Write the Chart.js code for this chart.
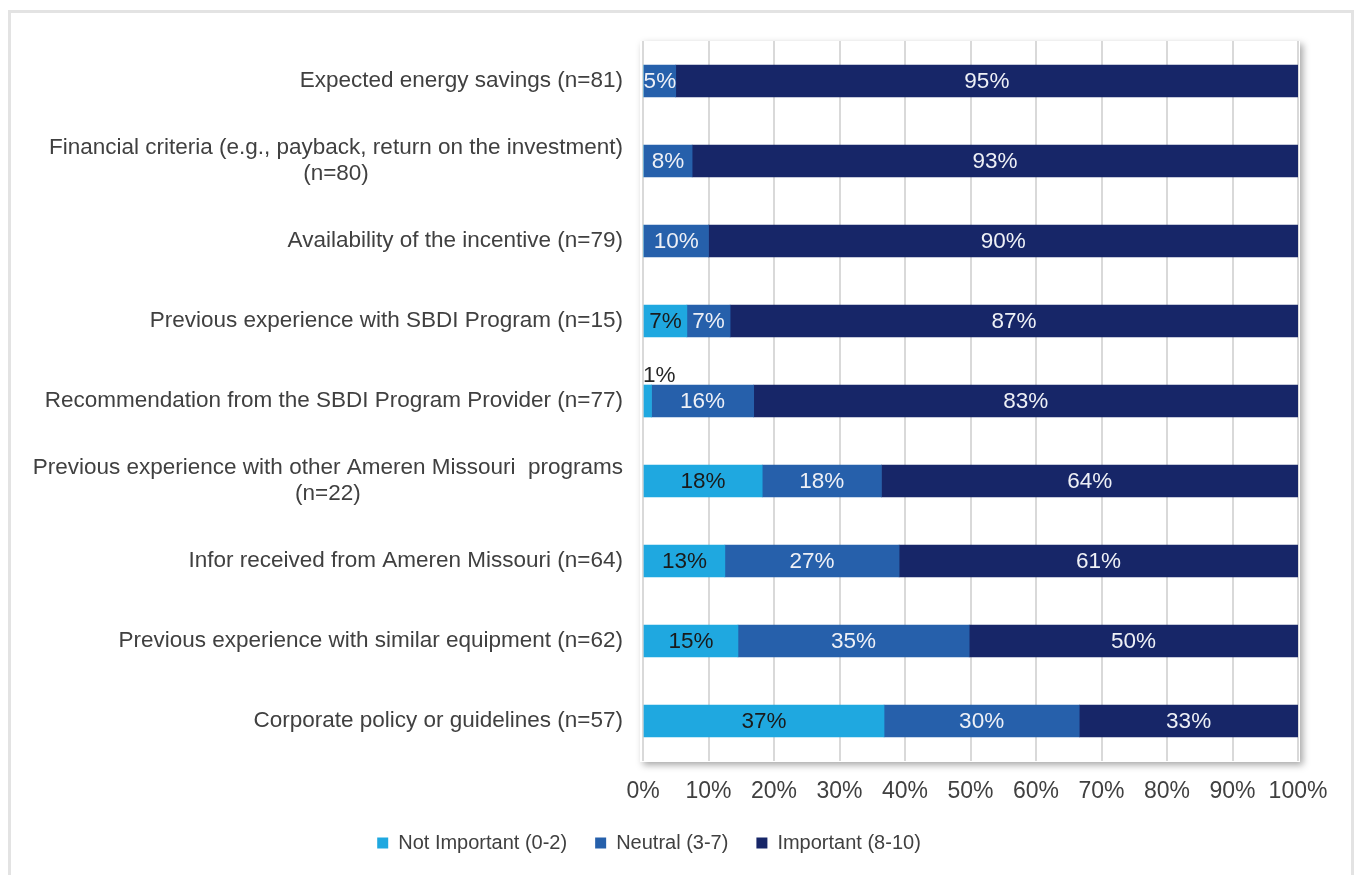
<!DOCTYPE html>
<html>
<head>
<meta charset="utf-8">
<script src="https://cdn.jsdelivr.net/npm/chart.js@4.4.0/dist/chart.umd.min.js"></script>
<style>
  html, body { margin: 0; padding: 0; background: #fff; }
  canvas { display: block; }
</style>
</head>
<body>
<canvas id="barChart" width="1357" height="875"></canvas>
<script>
// Rótulos das categorias (linhas quebradas onde o original quebra)
const categorias = [
  ['Expected energy savings (n=81)'],
  ['Financial criteria (e.g., payback, return on the investment)', '(n=80)'],
  ['Availability of the incentive (n=79)'],
  ['Previous experience with SBDI Program (n=15)'],
  ['Recommendation from the SBDI Program Provider (n=77)'],
  ['Previous experience with other Ameren Missouri  programs', '(n=22)'],
  ['Infor received from Ameren Missouri (n=64)'],
  ['Previous experience with similar equipment (n=62)'],
  ['Corporate policy or guidelines (n=57)']
];

const notImportant = [0, 0, 0, 6.7, 1.3, 18.2, 12.5, 14.5, 36.8];
const neutral      = [5, 7.5, 10, 6.6, 15.6, 18.2, 26.6, 35.3, 29.8];
const important    = [95, 92.5, 90, 86.7, 83.1, 63.6, 60.9, 50.2, 33.4];

const seriesNames = ['Not Important (0-2)', 'Neutral (3-7)', 'Important (8-10)'];
const xTicks = [0, 10, 20, 30, 40, 50, 60, 70, 80, 90, 100];

const FONT = "'Liberation Sans', Arial, sans-serif";
const TEXT = '#404040';

Chart.defaults.font.family = FONT;
Chart.defaults.color = TEXT;

// moldura externa + sombra da área do gráfico
const backgroundPlugin = {
  id: 'background',
  beforeDraw(chart) {
    const { ctx, chartArea: a } = chart;
    ctx.save();
    ctx.strokeStyle = '#e3e3e3';
    ctx.lineWidth = 3;
    ctx.strokeRect(9.5, 11.5, 1343, 880);
    ctx.shadowColor = 'rgba(0,0,0,0.35)';
    ctx.shadowBlur = 7;
    ctx.shadowOffsetX = 3;
    ctx.shadowOffsetY = 3;
    ctx.fillStyle = '#fff';
    ctx.fillRect(a.left - 3, a.top, a.right - a.left + 5, a.bottom - a.top + 1);
    ctx.restore();
  }
};

// rótulos do eixo Y (bloco alinhado à direita, linhas centralizadas)
const yLabelsPlugin = {
  id: 'yLabels',
  afterDraw(chart) {
    const { ctx } = chart;
    const y = chart.scales.y;
    const rightEdge = chart.chartArea.left - 20;
    ctx.save();
    ctx.font = '22.5px ' + FONT;
    ctx.fillStyle = TEXT;
    ctx.textAlign = 'center';
    ctx.textBaseline = 'middle';
    categorias.forEach((lines, i) => {
      const cy = y.getPixelForTick(i);
      const maxW = Math.max(...lines.map(l => ctx.measureText(l).width));
      const cx = rightEdge - maxW / 2;
      const lh = 26;
      const y0 = cy - (lines.length - 1) * lh / 2;
      lines.forEach((l, k) => ctx.fillText(l, cx, y0 + k * lh));
    });
    ctx.restore();
  }
};

// rótulos de valor nas barras
const valueLabelsPlugin = {
  id: 'valueLabels',
  afterDatasetsDraw(chart) {
    const { ctx } = chart;
    ctx.save();
    ctx.font = '22.5px ' + FONT;
    ctx.textBaseline = 'middle';
    chart.data.datasets.forEach((ds, di) => {
      const meta = chart.getDatasetMeta(di);
      meta.data.forEach((bar, i) => {
        const v = ds.data[i];
        if (!v) return;
        const txt = Math.round(v) + '%';
        if (v < 3) {
          ctx.fillStyle = '#262626';
          ctx.textAlign = 'left';
          ctx.fillText(txt, bar.base - 1, bar.y - 25);
          return;
        }
        ctx.fillStyle = di === 0 ? '#1a1a1a' : '#eef0f6';
        ctx.textAlign = 'center';
        ctx.fillText(txt, (bar.x + bar.base) / 2, bar.y + 1);
      });
    });
    ctx.restore();
  }
};

const ctx = document.getElementById('barChart').getContext('2d');
new Chart(ctx, {
  type: 'bar',
  data: {
    labels: categorias.map(c => c.join(' ')),
    datasets: [
      { label: seriesNames[0], data: notImportant, backgroundColor: '#1fa8e0' },
      { label: seriesNames[1], data: neutral, backgroundColor: '#2660ab' },
      { label: seriesNames[2], data: important, backgroundColor: '#172668' }
    ]
  },
  options: {
    indexAxis: 'y',
    responsive: false,
    animation: false,
    devicePixelRatio: 1,
    datasets: { bar: { barThickness: 32, borderWidth: 0 } },
    layout: { padding: { top: 41, right: 59, left: 0, bottom: 12 } },
    plugins: {
      tooltip: { enabled: false },
      legend: {
        position: 'bottom',
        labels: {
          boxWidth: 11,
          boxHeight: 11,
          padding: 28,
          color: TEXT,
          font: { size: 20 }
        }
      }
    },
    scales: {
      x: {
        stacked: true,
        min: 0,
        max: 100,
        afterBuildTicks: (s) => { s.ticks = xTicks.map(v => ({ value: v })); },
        afterFit: (s) => { s.height = 44; },
        border: { display: false },
        grid: { color: '#d9d9d9', lineWidth: 2, drawTicks: false },
        ticks: {
          padding: 17,
          color: TEXT,
          font: { size: 23 },
          maxRotation: 0,
          callback: v => v + '%'
        }
      },
      y: {
        stacked: true,
        afterFit: (s) => { s.width = 643; },
        border: { display: false },
        grid: { display: false },
        ticks: { display: false }
      }
    }
  },
  plugins: [backgroundPlugin, yLabelsPlugin, valueLabelsPlugin]
});
</script>
</body>
</html>
